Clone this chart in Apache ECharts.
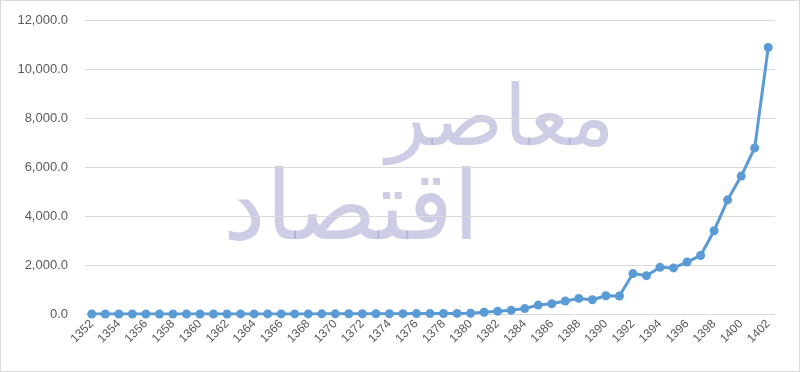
<!DOCTYPE html>
<html>
<head>
<meta charset="utf-8">
<script src="https://cdn.jsdelivr.net/npm/echarts@6/dist/echarts.min.js"></script>
<style>
html,body{margin:0;padding:0;background:#fff;}
#c{width:800px;height:372px;box-sizing:border-box;border:1px solid #d9d9d9;}
</style>
</head>
<body>
<div id="c"></div>
<script>
const years = ['1352','1353','1354','1355','1356','1357','1358','1359','1360','1361','1362','1363','1364','1365','1366','1367','1368','1369','1370','1371','1372','1373','1374','1375','1376','1377','1378','1379','1380','1381','1382','1383','1384','1385','1386','1387','1388','1389','1390','1391','1392','1393','1394','1395','1396','1397','1398','1399','1400','1401','1402'];
const values = [1,1,1,1,1,1,1,2,2,2,2,3,3,3,4,4,5,6,7,8,9,10,12,14,16,18,20,24,30,70,110,150,220,365,420,530,635,580,745,735,1650,1565,1905,1880,2120,2390,3400,4660,5630,6780,10880];
const yTicks = {min:0, max:12000, interval:2000};
const watermark = ['معاصر','اقتصاد'];

const chart = echarts.init(document.getElementById('c'));
chart.setOption({
  backgroundColor:'#ffffff',
  animation:false,
  grid:{left:84,right:24,top:19,bottom:57,containLabel:false},
  xAxis:{
    type:'category',
    data:years,
    boundaryGap:true,
    axisLine:{show:true,lineStyle:{color:'#d9d9d9'}},
    axisTick:{show:false},
    axisLabel:{interval:1,rotate:45,color:'#595959',fontFamily:'Liberation Sans, Arial',fontSize:12,margin:8}
  },
  yAxis:{
    type:'value',
    min:yTicks.min,max:yTicks.max,interval:yTicks.interval,
    axisLine:{show:false},axisTick:{show:false},
    splitLine:{lineStyle:{color:'#d9d9d9',width:1}},
    axisLabel:{color:'#595959',fontFamily:'Liberation Sans, Arial',fontSize:13,margin:17,
      formatter:v=>v.toLocaleString('en-US',{minimumFractionDigits:1,maximumFractionDigits:1})}
  },
  graphic:[
    {type:'text',left:385,top:80,z:-10,silent:true,
     style:{text:watermark[0],fontSize:84,fontFamily:'DejaVu Sans',fill:'rgba(144,146,197,0.45)'}},
    {type:'text',left:222,top:165,z:-10,silent:true,
     style:{text:watermark[1],fontSize:96,fontFamily:'DejaVu Sans',fill:'rgba(144,146,197,0.45)'}}
  ],
  series:[{
    type:'line',
    data:values,
    z:5,
    symbol:'circle',
    symbolSize:9,
    lineStyle:{color:'#5b9bd5',width:3},
    itemStyle:{color:'#5b9bd5'}
  }]
});
</script>
</body>
</html>
